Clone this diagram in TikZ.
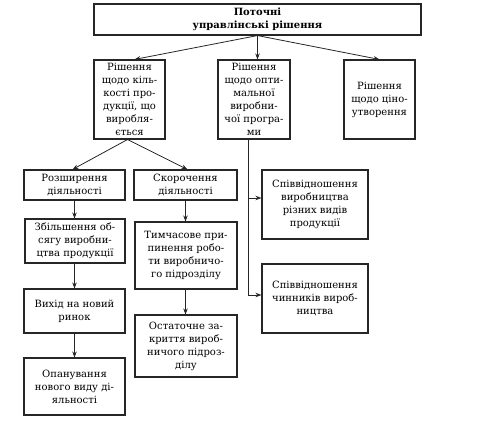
\documentclass[tikz,border=0pt]{standalone}
\usepackage{fontspec}
\setmainfont{DejaVu Serif}
\usetikzlibrary{arrows.meta,calc}
\begin{document}
\begin{tikzpicture}[x=1pt,y=-1pt,
  box/.style={draw=black!85,line width=1.1pt,align=center,inner sep=1pt,
    font=\fontsize{10}{13}\selectfont},
  conn/.style={draw=black!85,line width=0.8pt,-{Stealth[length=6pt,width=4.5pt]}}]
\useasboundingbox (0,0) rectangle (480,425);
\node[box,minimum width=327pt,minimum height=31pt,font=\bfseries\fontsize{10}{13}\selectfont] (top) at (257.5,19.5) {Поточні\\управлінські рішення};
\node[box,minimum width=71pt,minimum height=79pt] (b1) at (129.5,99.5) {Рішення\\щодо кіль-\\кості про-\\дукції, що\\виробля-\\ється};
\node[box,minimum width=72pt,minimum height=79pt] (b2) at (254,99.5) {Рішення\\щодо опти-\\мальної\\виробни-\\чої програ-\\ми};
\node[box,minimum width=71pt,minimum height=79pt] (b3) at (379.5,99.5) {Рішення\\щодо ціно-\\утворення};
\node[box,minimum width=101pt,minimum height=30pt] (r1) at (74.5,185) {Розширення\\діяльності};
\node[box,minimum width=103pt,minimum height=30pt] (s1) at (185.5,185) {Скорочення\\діяльності};
\node[box,minimum width=100pt,minimum height=44pt] (r2) at (75,241) {Збільшення об-\\сягу виробни-\\цтва продукції};
\node[box,minimum width=102pt,minimum height=67pt] (s2) at (186,255.5) {Тимчасове при-\\пинення робо-\\ти виробничо-\\го підрозділу};
\node[box,minimum width=101pt,minimum height=44pt] (r3) at (74.5,311) {Вихід на новий\\ринок};
\node[box,minimum width=101pt,minimum height=57pt] (r4) at (74.5,386.5) {Опанування\\нового виду ді-\\яльності};
\node[box,minimum width=102pt,minimum height=62pt] (s3) at (186,346) {Остаточне за-\\криття вироб-\\ничого підроз-\\ділу};
\node[box,minimum width=106pt,minimum height=69pt] (p1) at (315,204.5) {Співвідношення\\виробництва\\різних видів\\продукції};
\node[box,minimum width=106pt,minimum height=69pt] (p2) at (315,298.5) {Співвідношення\\чинників вироб-\\ництва};
\draw[conn] (top.south) -- ([xshift=5pt]b1.north);
\draw[conn] (top.south) -- (b2.north -| top.south);
\draw[conn] (top.south) -- (b3.north);
\draw[conn] ([xshift=-2pt]b1.south) -- ([xshift=-2pt]r1.north);
\draw[conn] ([xshift=-2pt]b1.south) -- ([xshift=2pt]s1.north);
\draw[conn] (r1.south) -- (r2.north -| r1.south);
\draw[conn] (s1.south) -- (s2.north -| s1.south);
\draw[conn] (r2.south -| r1.south) -- (r3.north);
\draw[conn] (r3.south) -- (r4.north);
\draw[conn] (s2.south -| s1.south) -- (s3.north -| s1.south);
\draw[conn] ([xshift=-6pt]b2.south) |- ([yshift=6.5pt]p1.west);
\draw[conn] ([xshift=-6pt]b2.south) |- ([yshift=3.5pt]p2.west);
\end{tikzpicture}
\end{document}
